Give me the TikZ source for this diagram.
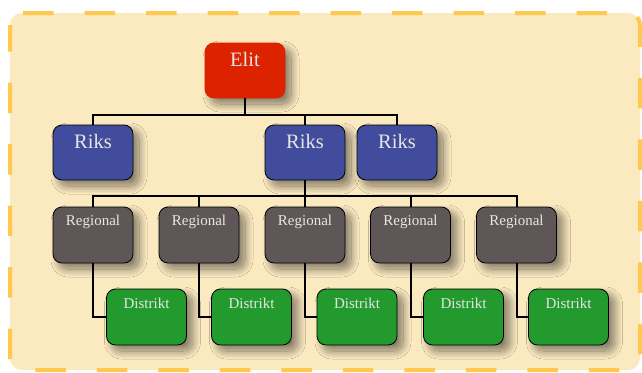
\documentclass[tikz,border=0pt]{standalone}
\usepackage{fontspec}
\setmainfont{Liberation Serif}
\usetikzlibrary{shadows.blur}
\definecolor{bgfill}{HTML}{FBE9C0}
\definecolor{bgedge}{HTML}{FFC94F}
\definecolor{elitred}{HTML}{DD2200}
\definecolor{riksblue}{HTML}{424C9C}
\definecolor{reggray}{HTML}{5E5657}
\definecolor{distgreen}{HTML}{239A2E}
\definecolor{txtgray}{HTML}{E6E6E6}
\tikzset{
  box/.style={rectangle, rounded corners=9pt, minimum width=80pt, inner xsep=0pt, inner ysep=0pt,
    text=txtgray, draw=black, line width=0.8pt,
    blur shadow={shadow xshift=6pt, shadow yshift=-6pt, shadow blur radius=8pt, shadow blur steps=24,
      shadow opacity=50, shadow blur extra rounding=4pt}},
  bigbox/.style={box, font=\fontsize{20.5}{24}\selectfont, text height=23pt, text depth=32pt},
  elitbox/.style={bigbox, fill=elitred, draw=elitred},
  riksbox/.style={bigbox, fill=riksblue},
  regbox/.style={box, fill=reggray, font=\fontsize{15}{18}\selectfont, text height=18pt, text depth=38pt},
  distbox/.style={box, fill=distgreen, font=\fontsize{15}{18}\selectfont, text height=19pt, text depth=37pt},
  conn/.style={draw=black, line width=2pt}
}
\begin{document}
\begin{tikzpicture}[x=1pt,y=-1pt]
\useasboundingbox (0,0) rectangle (642,372);
\fill[white] (0,0) rectangle (642,372);
\draw[fill=bgfill, draw=bgedge, line width=4pt, rounded corners=12pt, dash pattern=on 30.5pt off 31pt, dash phase=4pt]
  (10,13) rectangle (640,370);

\node[elitbox] (elit) at (245,70.5) {Elit};
\node[riksbox] (r1) at (93,152.5) {Riks};
\node[riksbox] (r2) at (305,152.5) {Riks};
\node[riksbox] (r3) at (397,152.5) {Riks};

\node[regbox] (g1) at (93,235) {Regional};
\node[regbox] (g2) at (199,235) {Regional};
\node[regbox] (g3) at (305,235) {Regional};
\node[regbox] (g4) at (410.5,235) {Regional};
\node[regbox] (g5) at (516.5,235) {Regional};

\node[distbox] (d1) at (146.5,317) {Distrikt};
\node[distbox] (d2) at (251.5,317) {Distrikt};
\node[distbox] (d3) at (357,317) {Distrikt};
\node[distbox] (d4) at (463.5,317) {Distrikt};
\node[distbox] (d5) at (568.5,317) {Distrikt};

\coordinate (bus1) at (0,115);
\coordinate (bus2) at (0,196);

\draw[conn] (elit.south) -- (elit.south |- bus1) -| (r1.north);
\draw[conn] (elit.south |- bus1) -| (r2.north);
\draw[conn] (elit.south |- bus1) -| (r3.north);

\draw[conn] (r2.south) -- (r2.south |- bus2) -| (g1.north);
\draw[conn] (r2.south |- bus2) -| (g2.north);
\draw[conn] (r2.south |- bus2) -- (g3.north);
\draw[conn] (r2.south |- bus2) -| (g4.north);
\draw[conn] (r2.south |- bus2) -| (g5.north);

\draw[conn] (g1.south) |- (d1.west);
\draw[conn] (g2.south) |- (d2.west);
\draw[conn] (g3.south) |- (d3.west);
\draw[conn] (g4.south) |- (d4.west);
\draw[conn] (g5.south) |- (d5.west);
\end{tikzpicture}
\end{document}
